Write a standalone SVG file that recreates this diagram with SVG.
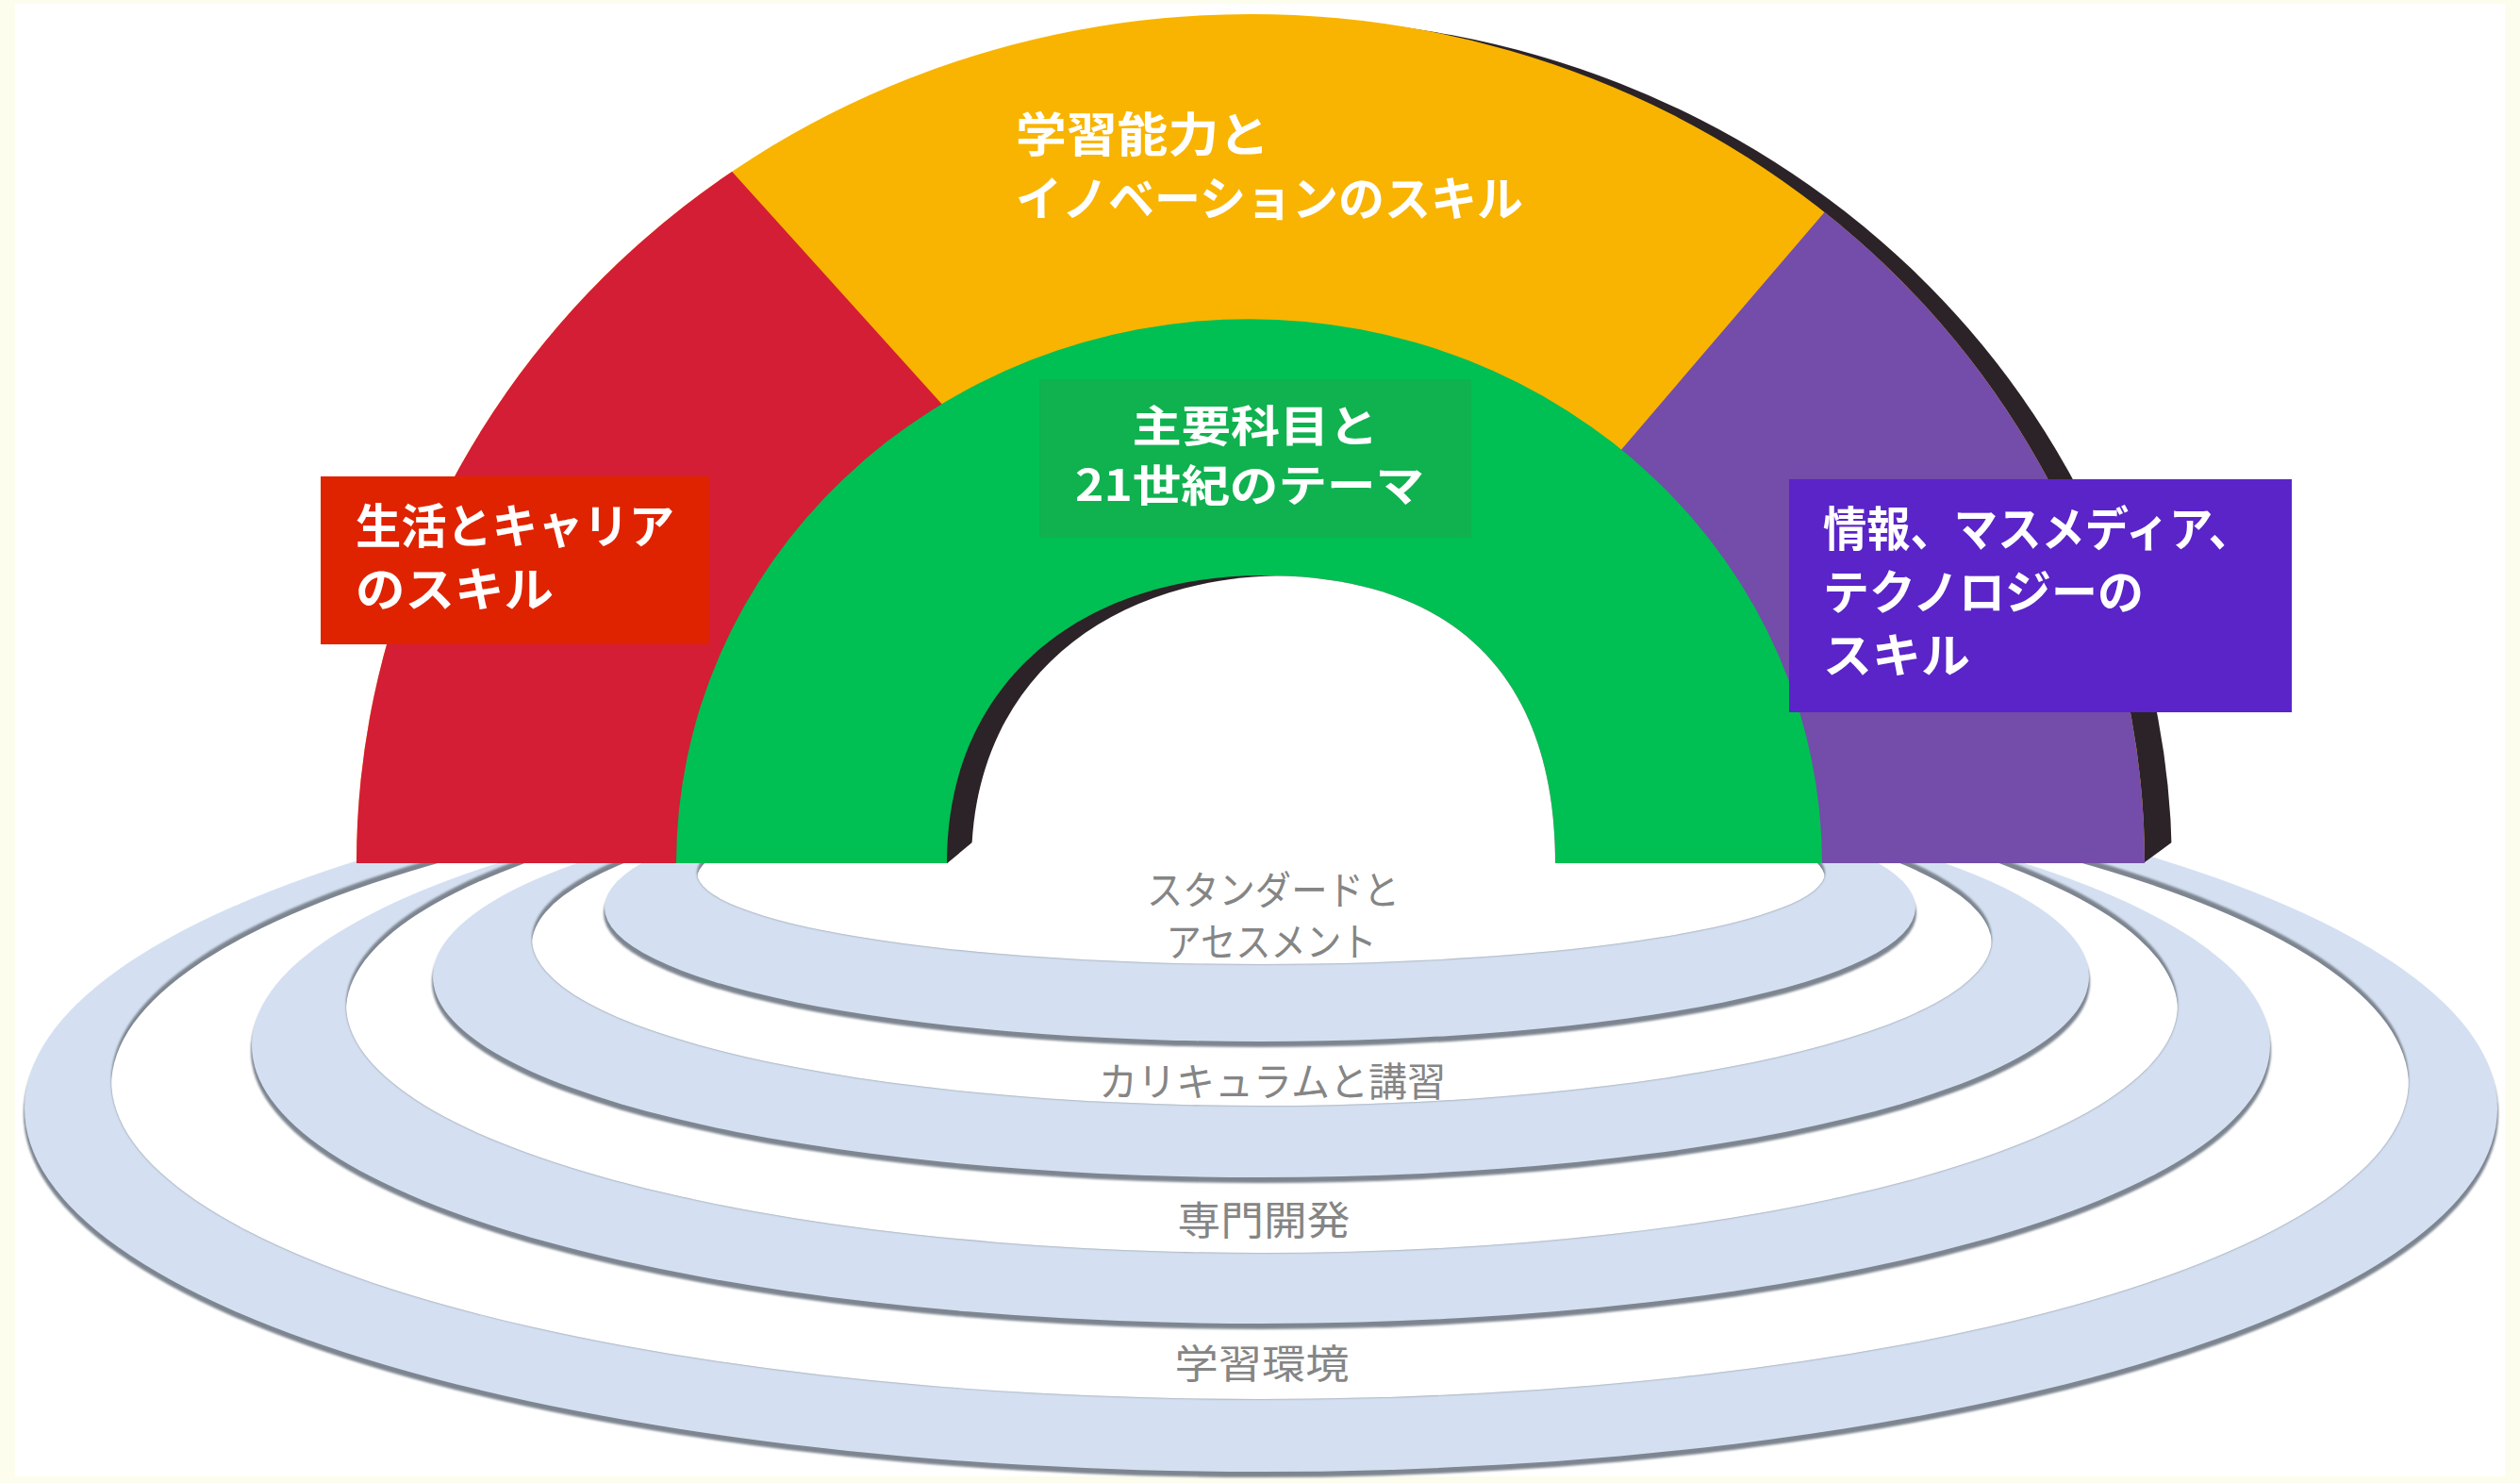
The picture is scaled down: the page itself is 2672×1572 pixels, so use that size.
<svg xmlns="http://www.w3.org/2000/svg" width="2672" height="1572" viewBox="0 0 2672 1572">
<style>
.lbl{font-family:"Noto Sans CJK JP","Noto Sans CJK SC",sans-serif;font-weight:700;fill:#ffffff;font-size:50px}
.rlbl{font-family:"Noto Sans CJK JP","Noto Sans CJK SC",sans-serif;font-weight:400;fill:#858585;font-size:42px}
.band{fill:#d4e0f1}
.wall{fill:#7d8590}
.gap{fill:#ffffff}
.shadow{fill:#2b2327}
</style>
<defs>
<clipPath id="ground"><rect x="0" y="906" width="2672" height="666"/></clipPath>
<clipPath id="archClip"><path d="M378 915 A948 900 0 0 1 2274 915 Z"/></clipPath>
<clipPath id="bevelClip"><polygon points="0,0 2672,0 2672,892 2304,892 2274,914 0,914"/></clipPath>
<clipPath id="holeClip"><path d="M1004 915 C1004 720 1150 610 1340 610 C1545 610 1649 720 1649 915 Z"/></clipPath>
<clipPath id="i4"><ellipse cx="1336" cy="1145" rx="1218" ry="338"/></clipPath>
<clipPath id="i3"><ellipse cx="1338" cy="1065" rx="971" ry="263"/></clipPath>
<clipPath id="i2"><ellipse cx="1338" cy="995" rx="774" ry="177"/></clipPath>
<clipPath id="i1"><ellipse cx="1337" cy="925" rx="598" ry="97"/></clipPath>
<filter id="soft" x="-5%" y="-5%" width="110%" height="110%"><feGaussianBlur stdDeviation="1.2"/></filter>
</defs>

<rect x="0" y="0" width="2672" height="1572" fill="#fdfdee"/>
<rect x="16" y="4" width="2640" height="1561" fill="#ffffff"/>

<g id="rings" clip-path="url(#ground)">
  <g id="ring-learning-environment">
    <ellipse class="wall" cx="1337" cy="1181" rx="1312" ry="385" filter="url(#soft)"/>
    <ellipse class="band" cx="1337" cy="1175" rx="1311" ry="385"/>
    <ellipse class="wall" cx="1336" cy="1145" rx="1218" ry="338" filter="url(#soft)"/>
    <ellipse class="gap" cx="1336" cy="1151" rx="1218" ry="338" clip-path="url(#i4)"/>
  </g>
  <g id="ring-professional-development">
    <ellipse class="wall" cx="1337" cy="1114" rx="1071" ry="295" filter="url(#soft)"/>
    <ellipse class="band" cx="1337" cy="1108" rx="1070" ry="295"/>
    <ellipse class="wall" cx="1338" cy="1065" rx="971" ry="263" filter="url(#soft)"/>
    <ellipse class="gap" cx="1338" cy="1071" rx="971" ry="263" clip-path="url(#i3)"/>
  </g>
  <g id="ring-curriculum">
    <ellipse class="wall" cx="1337" cy="1041" rx="879" ry="213" filter="url(#soft)"/>
    <ellipse class="band" cx="1337" cy="1035" rx="878" ry="213"/>
    <ellipse class="wall" cx="1338" cy="995" rx="774" ry="177" filter="url(#soft)"/>
    <ellipse class="gap" cx="1338" cy="1001" rx="774" ry="177" clip-path="url(#i2)"/>
  </g>
  <g id="ring-standards">
    <ellipse class="wall" cx="1336" cy="968" rx="696" ry="142" filter="url(#soft)"/>
    <ellipse class="band" cx="1336" cy="962" rx="695" ry="142"/>
    <ellipse class="wall" cx="1337" cy="925" rx="598" ry="97" filter="url(#soft)"/>
    <ellipse class="gap" cx="1337" cy="931" rx="598" ry="97" clip-path="url(#i1)"/>
  </g>
</g>

<g id="outer-arch">
  <g clip-path="url(#bevelClip)">
    <path class="shadow" transform="translate(29,5)" d="M378 915 A948 900 0 0 1 2274 915 Z"/>
  </g>
  <g clip-path="url(#archClip)">
    <rect x="370" y="0" width="1910" height="915" fill="#f8b400"/>
    <polygon id="seg-red" points="0,0 612,0 1438,915 0,915" fill="#d31e36"/>
    <polygon id="seg-purple" points="2127,0 2700,0 2700,915 1344,915" fill="#744ca9"/>
  </g>
</g>

<g id="core-arch">
  <path d="M717 915 A607.5 577 0 0 1 1932 915 Z" fill="#00bf53"/>
  <path class="shadow" d="M1004 915 C1004 720 1150 610 1340 610 C1545 610 1649 720 1649 915 Z"/>
  <g clip-path="url(#holeClip)">
    <path d="M1030 915 C1030 720 1176 610 1366 610 C1571 610 1675 720 1675 915 Z" fill="#ffffff"/>
    <polygon points="1002,917 1032,892 1040,917" fill="#ffffff"/>
  </g>
</g>

<g id="node-learning-innovation">
  <text class="lbl" x="1077" y="161" textLength="269" lengthAdjust="spacingAndGlyphs">学習能力と</text>
  <text class="lbl" x="1077" y="229" textLength="538" lengthAdjust="spacingAndGlyphs">イノベーションのスキル</text>
</g>

<g id="node-life-career">
  <rect x="340" y="505" width="412" height="178" fill="#df2300"/>
  <text class="lbl" x="377" y="576" textLength="338" lengthAdjust="spacingAndGlyphs">生活とキャリア</text>
  <text class="lbl" x="377" y="643" textLength="210" lengthAdjust="spacingAndGlyphs">のスキル</text>
</g>

<g id="node-information-media">
  <rect x="1897" y="508" width="533" height="247" fill="#5a24c8"/>
  <text class="lbl" x="1933" y="579" textLength="455" lengthAdjust="spacingAndGlyphs">情報、マスメディア、</text>
  <text class="lbl" x="1933" y="646" textLength="340" lengthAdjust="spacingAndGlyphs">テクノロジーの</text>
  <text class="lbl" x="1933" y="713" textLength="156" lengthAdjust="spacingAndGlyphs">スキル</text>
</g>

<g id="node-core-subjects">
  <rect x="1102" y="402" width="458" height="168" fill="#10b14f"/>
  <text class="lbl" x="1331" y="468" text-anchor="middle" textLength="261" lengthAdjust="spacingAndGlyphs" style="font-size:46px">主要科目と</text>
  <text class="lbl" x="1325" y="531" text-anchor="middle" textLength="370" lengthAdjust="spacingAndGlyphs" style="font-size:46px">21世紀のテーマ</text>
</g>

<g id="ring-labels">
  <text class="rlbl" x="1350" y="959" text-anchor="middle" textLength="268" lengthAdjust="spacingAndGlyphs">スタンダードと</text>
  <text class="rlbl" x="1348" y="1014" text-anchor="middle" textLength="223" lengthAdjust="spacingAndGlyphs">アセスメント</text>
  <text class="rlbl" x="1349" y="1162" text-anchor="middle" textLength="368" lengthAdjust="spacingAndGlyphs">カリキュラムと講習</text>
  <text class="rlbl" x="1340" y="1309" text-anchor="middle" textLength="183" lengthAdjust="spacingAndGlyphs">専門開発</text>
  <text class="rlbl" x="1338" y="1461" text-anchor="middle" textLength="185" lengthAdjust="spacingAndGlyphs">学習環境</text>
</g>
</svg>
